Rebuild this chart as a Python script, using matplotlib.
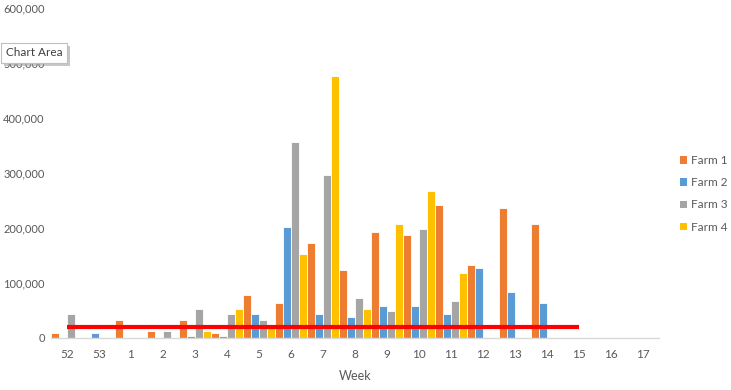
import matplotlib
matplotlib.use("Agg")
import matplotlib.pyplot as plt
import numpy as np
from matplotlib.patches import Patch
from matplotlib.ticker import FuncFormatter

weeks = ["52", "53", "1", "2", "3", "4", "5", "6", "7", "8", "9", "10",
         "11", "12", "13", "14", "15", "16", "17"]
farm1 = [9000, 0, 32700, 12700, 32700, 9000, 78000, 63600, 172700, 123600,
         192700, 187300, 241800, 132700, 236400, 207300, 0, 0, 0]
farm2 = [0, 9000, 0, 0, 3600, 3600, 43600, 202400, 43600, 38200,
         58200, 58200, 43600, 127300, 83600, 63600, 0, 0, 0]
farm3 = [43600, 0, 0, 12700, 52700, 43600, 32700, 357000, 296400, 72700,
         49100, 198200, 67300, 0, 0, 0, 0, 0, 0]
farm4 = [0, 0, 0, 0, 12700, 52700, 23600, 152700, 477000, 52700,
         207300, 267300, 118200, 0, 0, 0, 0, 0, 0]
threshold = [20000] * 17 + [np.nan, np.nan]
series_names = ["Farm 1", "Farm 2", "Farm 3", "Farm 4"]
colors = ["#ED7D31", "#5B9BD5", "#A5A5A5", "#FFC000"]

plt.rcParams['font.family'] = ['Lato', 'DejaVu Sans']
fig = plt.figure(figsize=(7.31, 3.90), dpi=100)
ax = fig.add_axes([51/731, 1-338/390, (659-51)/731, (338-8)/390])

x = np.arange(len(weeks))
w = 0.25
for i, (vals, c) in enumerate(zip([farm1, farm2, farm3, farm4], colors)):
    ax.bar(x + (i - 1.5) * w, vals, width=w, color=c, edgecolor="white",
           linewidth=0.6, zorder=2)
ax.plot(x, threshold, color="#FF0000", linewidth=3, zorder=3,
        solid_capstyle="butt")

ax.set_xlim(-0.5, len(weeks) - 0.5)
ax.set_ylim(0, 600000)
ax.set_yticks(np.arange(0, 600001, 100000))
ax.yaxis.set_major_formatter(FuncFormatter(lambda v, p: f"{int(v):,}"))
ax.set_xticks(x)
ax.set_xticklabels(weeks)
for s in ["top", "right", "left"]:
    ax.spines[s].set_visible(False)
ax.spines["bottom"].set_color("#D9D9D9")
ax.spines["bottom"].set_linewidth(1)
ax.tick_params(axis="x", length=0, colors="#595959", labelsize=8.5, pad=8)
ax.tick_params(axis="y", length=0, colors="#595959", labelsize=8, pad=4.5)
ax.set_xlabel("Week", color="#595959", fontsize=9, labelpad=7)

handles = [Patch(facecolor=c, edgecolor="none") for c in colors]
fig.legend(handles, series_names, loc="upper left",
           bbox_to_anchor=(680/731, 1-155/390), frameon=False,
           borderpad=0, borderaxespad=0,
           fontsize=8.5, labelcolor="#595959", handlelength=0.6,
           handleheight=0.6, handletextpad=0.3, labelspacing=0.95)

# Excel tooltip
fig.text(9/731, 1-56/390, "Chart Area", fontsize=8.5, color=(0, 0, 0, 0),
         ha="left", va="center",
         bbox=dict(boxstyle="square,pad=0.4", facecolor="#9A9A9A",
                   edgecolor="none", alpha=0.55), zorder=9)
fig.text(6/731, 1-53/390, "Chart Area", fontsize=8.5, color="#404040",
         ha="left", va="center",
         bbox=dict(boxstyle="square,pad=0.4", facecolor="white",
                   edgecolor="#BFBFBF", linewidth=0.8), zorder=10)

fig.savefig("out.png", dpi=100)
